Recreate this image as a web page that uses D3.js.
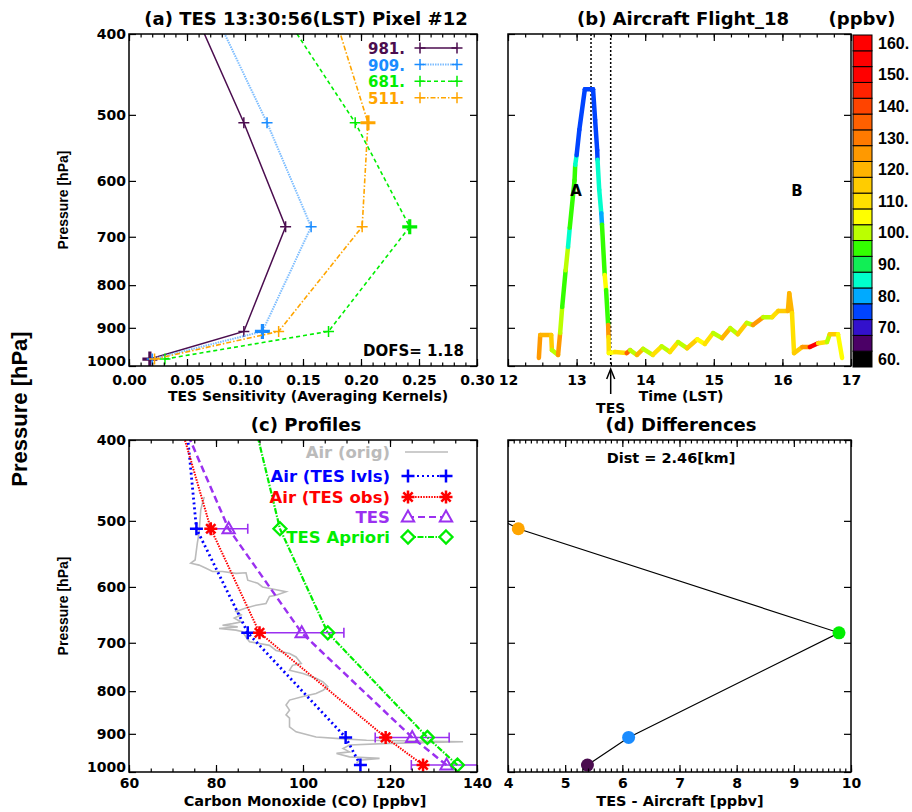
<!DOCTYPE html>
<html>
<head>
<meta charset="utf-8">
<script src="https://cdn.jsdelivr.net/npm/d3@7"></script>
<style>
  body { margin: 0; background: #fff; }
  svg text { font-family: "DejaVu Sans", sans-serif; font-weight: bold; }
  .vlab { font-family: "Liberation Sans", Arial, sans-serif !important; }
</style>
</head>
<body>
<svg id="chart" width="912" height="812"></svg>
<script>
// ---- data ----
const levels = [981, 909, 681, 511, 383];  // TES pressure levels (hPa)
const akNames = ["981.", "909.", "681.", "511."];
const ak981 = [0.018, 0.099, 0.135, 0.099, 0.059];
const ak909 = [0.020, 0.115, 0.157, 0.119, 0.076];
const ak681 = [0.031, 0.172, 0.242, 0.195, 0.136];
const ak511 = [0.022, 0.129, 0.201, 0.206, 0.178];
const dofs = "DOFS= 1.18";

// aircraft flight 18: time (LST hours), pressure (hPa), CO (ppbv)
const flightTime = [12.45, 12.47, 12.63, 12.64, 12.73, 12.76, 12.79, 12.84, 12.875, 12.90, 12.97, 12.98, 13.00, 13.04, 13.12,
  13.24, 13.27, 13.30, 13.305, 13.33, 13.36, 13.37, 13.41, 13.43, 13.46, 13.465, 13.47,
  13.56, 13.73, 13.78, 13.88, 13.97, 14.11, 14.24, 14.36, 14.48, 14.61, 14.76, 14.87, 14.99, 15.12, 15.24, 15.35,
  15.48, 15.57, 15.72, 15.85, 15.94, 16.08, 16.10, 16.14, 16.17, 16.29, 16.40, 16.52, 16.65, 16.69, 16.81, 16.87];
const flightP = [978, 918, 918, 957, 970, 913, 850, 768, 720, 683, 599, 574, 559, 521, 466,
  466, 507, 551, 566, 615, 656, 677, 778, 811, 893, 923, 965,
  962, 965, 957, 970, 954, 970, 947, 962, 936, 952, 929, 941, 913, 926, 901, 916,
  888, 893, 874, 874, 859, 859, 818, 864, 965, 949, 949, 939, 936, 916, 916, 978];
const flightCO = [125, 120, 115, 100, 125, 100, 95, 100, 85, 95, 95, 85, 75, 75, 75,
  75, 75, 75, 85, 85, 80, 95, 105, 95, 125, 110, 105,
  110, 135, 100, 120, 100, 110, 100, 110, 100, 115, 105, 110, 100, 120, 100, 115,
  100, 125, 100, 110, 115, 120, 120, 110, 115, 125, 150, 110, 100, 115, 105, 100];
const flightMarks = [13.21, 13.497];  // dotted lines, second is TES overpass

// colour bar
const cbLevels = [60, 65, 70, 75, 80, 85, 90, 95, 100, 105, 110, 115, 120, 125, 130, 135, 140, 145, 150, 155, 160];
const cbColors = ["#000000", "#4b0066", "#3311cc", "#0044ff", "#00aaff", "#00ffcc", "#11ee55", "#33ff00", "#bbff00", "#ffff00",
  "#ffe000", "#ffcc00", "#ffb400", "#ff9900", "#ff7a00", "#ff6000", "#ff4400", "#ff2200", "#ff0000", "#ff0000", "#ff0000"];
const cbLabels = [60, 70, 80, 90, 100, 110, 120, 130, 140, 150, 160];

// profiles (CO ppbv at levels)
const airTes = [113.2, 109.8, 87.3, 75.5, 73.2];
const airObs = [127.6, 119.0, 90.0, 78.8, 71.8];
const tesRet = [133.0, 125.1, 99.7, 82.9, 72.5];
const tesErr = [8.1, 8.5, 9.7, 4.4];
const apriori = [135.5, 128.6, 105.7, 94.7, 88.9];
const airOrigCO = [77.3, 76.9, 76.5, 76.1, 75.7, 75.4, 75.2, 74.2, 76.1, 77.7, 79.2, 81.5, 84.6, 86.9, 87.3, 89.6, 90.7, 96.1,
  93.8, 92.3, 91.5, 89.2, 86.9, 84.6, 85.8, 84.2, 85.8, 83.8, 81.5, 85.0, 80.7, 84.6, 86.1, 86.9, 87.7, 92.3, 93.8,
  96.9, 98.4, 99.6, 97.6, 96.9, 100.0, 103.0, 104.6, 105.7, 104.6, 103.0, 100.0, 96.9, 96.1, 96.9, 96.1, 96.9, 96.9,
  98.4, 103.0, 108.4, 114.6, 136.8, 119.9, 110.7, 109.2, 110.7, 107.7, 110.7, 117.6, 113.0, 112.3];
const airOrigP = [468, 476, 485, 517, 532, 547, 557, 562, 565, 570, 575, 575, 578, 577, 589, 594, 600, 608,
  614, 616, 628, 631, 636, 642, 648, 654, 661, 664, 667, 670, 673, 676, 679, 689, 698, 705, 715,
  721, 728, 741, 745, 755, 762, 772, 780, 790, 798, 805, 812, 820, 831, 843, 854, 862, 883,
  895, 908, 912, 916, 920, 924, 928, 937, 946, 950, 959, 963, 968, 976];
const legendC = ["Air (orig)", "Air (TES lvls)", "Air (TES obs)", "TES", "TES Apriori"];

// differences TES - aircraft
const diffs = [5.39, 6.11, 9.79, 4.18, 0.7];
const distText = "Dist = 2.46[km]";

const pTicks = [400, 500, 600, 700, 800, 900, 1000];

// ---- scales ----
const svg = d3.select("#chart");
const yA = d3.scaleLog().domain([400, 1000]).range([34, 366]);
const yC = d3.scaleLog().domain([400, 1000]).range([440, 772]);
const xA = d3.scaleLinear().domain([0, 0.30]).range([129, 477]);
const xB = d3.scaleLinear().domain([12, 17]).range([508, 851]);
const xC = d3.scaleLinear().domain([60, 140]).range([129, 477]);
const xD = d3.scaleLinear().domain([4, 10]).range([508, 851]);

const purple = "#4b0d4f", blue = "#1a8cff", green = "#00ee00", orange = "#ffa500";

function axes(x, y, major, minor, xfmt, yLabels, pad) {
  const [l, r] = x.range(), [t, b] = y.range();
  const g = svg.append("g");
  const add = (axis, tr) => {
    const a = g.append("g").attr("transform", tr).call(axis);
    a.select(".domain").remove();
    a.attr("font-family", null).attr("font-size", 14);
    a.selectAll("line").attr("stroke-width", 1.2);
    return a;
  };
  add(d3.axisBottom(x).tickValues(minor).tickSize(-3.5).tickFormat(""), `translate(0,${b})`);
  add(d3.axisTop(x).tickValues(minor).tickSize(-3.5).tickFormat(""), `translate(0,${t})`);
  add(d3.axisBottom(x).tickValues(major).tickSize(-7).tickPadding(pad).tickFormat(xfmt), `translate(0,${b})`);
  add(d3.axisTop(x).tickValues(major).tickSize(-7).tickFormat(""), `translate(0,${t})`);
  const yl = add(d3.axisLeft(y).tickValues(pTicks).tickSize(-7).tickPadding(3)
    .tickFormat(yLabels ? d3.format("d") : ""), `translate(${l},0)`);
  yl.selectAll("text").filter(d => d === 1000).attr("dy", "-0.05em");
  add(d3.axisRight(y).tickValues(pTicks).tickSize(-7).tickFormat(""), `translate(${r},0)`);
  g.append("rect").attr("x", l).attr("y", t).attr("width", r - l).attr("height", b - t)
    .attr("fill", "none").attr("stroke", "#000").attr("stroke-width", 1.5);
}

function clip(id, x, y) {
  const [l, r] = x.range(), [t, b] = y.range();
  svg.append("clipPath").attr("id", id).append("rect")
    .attr("x", l).attr("y", t).attr("width", r - l).attr("height", b - t);
  return svg.append("g").attr("clip-path", `url(#${id})`);
}

const cross = (x, y, s) => `M${x - s},${y}H${x + s}M${x},${y - s}V${y + s}`;
const star = (x, y, s) => { const d = s * 0.72;
  return `M${x - s},${y}H${x + s}M${x},${y - s}V${y + s}M${x - d},${y - d}L${x + d},${y + d}M${x - d},${y + d}L${x + d},${y - d}`; };
const tri = (x, y, s) => `M${x},${y - s}L${x + s * 0.95},${y + s * 0.7}L${x - s * 0.95},${y + s * 0.7}Z`;
const diamond = (x, y, s) => `M${x},${y - s}L${x + s},${y}L${x},${y + s}L${x - s},${y}Z`;

function txt(x, y, s, size, anchor, color) {
  return svg.append("text").attr("x", x).attr("y", y).attr("font-size", size)
    .attr("text-anchor", anchor || "middle").attr("fill", color || "#000").text(s);
}

// ---- titles ----
txt(306, 25, "(a) TES 13:30:56(LST) Pixel #12", 18);
txt(683, 25, "(b) Aircraft Flight_18", 18);
txt(862, 25, "(ppbv)", 18);
txt(306, 431, "(c) Profiles", 18);
txt(681, 431, "(d) Differences", 18);

svg.append("text").attr("class", "vlab").attr("transform", "translate(27,409) rotate(-90)")
  .attr("text-anchor", "middle").attr("font-size", 22).text("Pressure [hPa]");
svg.append("text").attr("class", "vlab").attr("transform", "translate(68,200) rotate(-90)")
  .attr("text-anchor", "middle").attr("font-size", 14).text("Pressure [hPa]");
svg.append("text").attr("class", "vlab").attr("transform", "translate(68,606) rotate(-90)")
  .attr("text-anchor", "middle").attr("font-size", 14).text("Pressure [hPa]");

// ---- panel (a) averaging kernels ----
const akSets = [ak981, ak909, ak681, ak511];
const akStyle = [
  { c: purple, lc: purple, w: 1.5, dash: null },
  { c: blue, lc: "#7dbdff", w: 2, dash: "1.5,1" },
  { c: green, lc: green, w: 1.6, dash: "4,3" },
  { c: orange, lc: orange, w: 1.6, dash: "5,2,1.5,2" }
];
const gA = clip("clipA", xA, yA);
akSets.forEach((vals, k) => {
  const st = akStyle[k];
  gA.append("path").datum(vals)
    .attr("d", d3.line().x(d => xA(d)).y((d, i) => yA(levels[i])))
    .attr("fill", "none").attr("stroke", st.lc).attr("stroke-width", st.w)
    .attr("stroke-dasharray", st.dash);
  vals.slice(0, 4).forEach((v, i) => {
    const big = i === k;
    gA.append("path").attr("d", cross(xA(v), yA(levels[i]), big ? 7.5 : 5.5))
      .attr("stroke", st.c).attr("stroke-width", big ? 3.2 : 1.5).attr("fill", "none");
  });
  // legend
  const ly = 48 + k * 16.6;
  txt(405, ly + 6, akNames[k], 15, "end", st.c);
  svg.append("line").attr("x1", 420).attr("x2", 457).attr("y1", ly).attr("y2", ly)
    .attr("stroke", st.lc).attr("stroke-width", st.w).attr("stroke-dasharray", st.dash);
  [420, 457].forEach(x => svg.append("path").attr("d", cross(x, ly, 5.5))
    .attr("stroke", st.c).attr("stroke-width", 1.5));
});
txt(464, 356, dofs, 15, "end");
axes(xA, yA, [0, 0.05, 0.10, 0.15, 0.20, 0.25, 0.30], d3.range(0, 0.3001, 0.01), d3.format(".2f"), true, 9);
txt(308, 401, "TES Sensitivity (Averaging Kernels)", 14);

// ---- panel (b) flight ----
const cbIndex = co => Math.max(0, Math.min(cbLevels.length - 1, Math.round((co - 60) / 5)));
const gB = clip("clipB", xB, yA);
flightMarks.forEach(t => gB.append("line").attr("x1", xB(t)).attr("x2", xB(t))
  .attr("y1", 34).attr("y2", 366).attr("stroke", "#000").attr("stroke-width", 1.5).attr("stroke-dasharray", "2,2"));
for (let i = 0; i < flightTime.length - 1; i++) {
  gB.append("line")
    .attr("x1", xB(flightTime[i])).attr("y1", yA(flightP[i]))
    .attr("x2", xB(flightTime[i + 1])).attr("y2", yA(flightP[i + 1]))
    .attr("stroke", cbColors[cbIndex(flightCO[i])]).attr("stroke-width", 4.5).attr("stroke-linecap", "round");
}
txt(576, 196, "A", 15);
txt(797, 196, "B", 15);
axes(xB, yA, [12, 13, 14, 15, 16, 17], d3.range(12, 17.001, 0.25), d3.format("d"), false, 9);
txt(681, 401, "Time (LST)", 14);
// TES arrow
const ax = xB(flightMarks[1]);
svg.append("line").attr("x1", ax).attr("x2", ax).attr("y1", 394).attr("y2", 370).attr("stroke", "#000").attr("stroke-width", 1.5);
svg.append("path").attr("d", `M${ax - 4},${379}L${ax},${369}L${ax + 4},${379}`).attr("fill", "none").attr("stroke", "#000").attr("stroke-width", 1.5);
txt(ax, 413, "TES", 14);

// colour bar
const cbY = d3.scaleLinear().domain([57.5, 162.5]).range([367, 35]);
svg.append("g").selectAll("rect").data(cbLevels).join("rect")
  .attr("x", 853).attr("width", 19)
  .attr("y", d => cbY(d + 2.5)).attr("height", d => cbY(d - 2.5) - cbY(d + 2.5))
  .attr("fill", (d, i) => cbColors[i]).attr("stroke", "#000").attr("stroke-width", 1);
svg.append("g").selectAll("text").data(cbLabels).join("text")
  .attr("class", "vlab")
  .attr("x", 878).attr("y", d => cbY(d)).attr("dy", "0.36em").attr("font-size", 16)
  .text(d => d + ".");

// ---- panel (c) profiles ----
const gC = clip("clipC", xC, yC);
const lineC = d3.line().x(d => xC(d)).y((d, i) => yC(levels[i]));
gC.append("path").datum(airOrigCO)
  .attr("d", d3.line().x(d => xC(d)).y((d, i) => yC(airOrigP[i])))
  .attr("fill", "none").attr("stroke", "#bbbbbb").attr("stroke-width", 1.6);
const profStyle = [
  { data: airTes, c: "#0000ff", w: 2.8, dash: "2,3", m: cross, s: 6.5, mw: 2.5 },
  { data: airObs, c: "#ff0000", w: 2, dash: "1.5,1.2", m: star, s: 6.5, mw: 2.5 },
  { data: tesRet, c: "#9b30f0", w: 2.5, dash: "7,4", m: tri, s: 6.5, mw: 2 },
  { data: apriori, c: "#00ee00", w: 2.2, dash: "6,1.5,1.5,1.5", m: diamond, s: 6.5, mw: 2.3 }
];
// error bars on TES retrieval
tesErr.forEach((e, i) => {
  const y = yC(levels[i]), x1 = xC(tesRet[i] - e), x2 = xC(tesRet[i] + e);
  gC.append("path").attr("d", `M${x1},${y}H${x2}M${x1},${y - 5}V${y + 5}M${x2},${y - 5}V${y + 5}`)
    .attr("stroke", "#9b30f0").attr("stroke-width", 1.6).attr("fill", "none");
});
profStyle.forEach(st => {
  gC.append("path").datum(st.data).attr("d", lineC).attr("fill", "none")
    .attr("stroke", st.c).attr("stroke-width", st.w).attr("stroke-dasharray", st.dash);
  st.data.slice(0, 4).forEach((v, i) => gC.append("path").attr("d", st.m(xC(v), yC(levels[i]), st.s))
    .attr("stroke", st.c).attr("stroke-width", st.mw).attr("fill", "none"));
});
// legend (c)
const legRows = [452, 476, 497, 517, 537];
const legColors = ["#bbbbbb", "#0000ff", "#ff0000", "#9b30f0", "#00ee00"];
legendC.forEach((s, k) => txt(390, legRows[k] + 6, s, 16.5, "end", legColors[k]));
svg.append("line").attr("x1", 405).attr("x2", 448).attr("y1", legRows[0]).attr("y2", legRows[0])
  .attr("stroke", "#bbbbbb").attr("stroke-width", 1.6);
profStyle.forEach((st, k) => {
  const y = legRows[k + 1];
  svg.append("line").attr("x1", 407).attr("x2", 447).attr("y1", y).attr("y2", y)
    .attr("stroke", st.c).attr("stroke-width", Math.min(st.w, 2)).attr("stroke-dasharray", st.dash);
  [408, 446].forEach(x => svg.append("path").attr("d", st.m(x, y, st.s))
    .attr("stroke", st.c).attr("stroke-width", st.mw).attr("fill", "#fff"));
});
axes(xC, yC, [60, 80, 100, 120, 140], d3.range(60, 140.01, 5), d3.format("d"), true, 6);
txt(305, 806, "Carbon Monoxide (CO) [ppbv]", 14.5);

// ---- panel (d) differences ----
const gD = clip("clipD", xD, yC);
gD.append("path").datum(diffs)
  .attr("d", d3.line().x(d => xD(d)).y((d, i) => yC(levels[i])))
  .attr("fill", "none").attr("stroke", "#000").attr("stroke-width", 1.2);
const dotColors = [purple, blue, green, orange];
diffs.slice(0, 4).forEach((v, i) => gD.append("circle")
  .attr("cx", xD(v)).attr("cy", yC(levels[i])).attr("r", 6.5).attr("fill", dotColors[i]));
txt(671, 463, distText, 14.5);
axes(xD, yC, [4, 5, 6, 7, 8, 9, 10], d3.range(4, 10.001, 0.1), d3.format("d"), false, 6);
txt(680, 806, "TES - Aircraft [ppbv]", 14.5);
</script>
</body>
</html>
